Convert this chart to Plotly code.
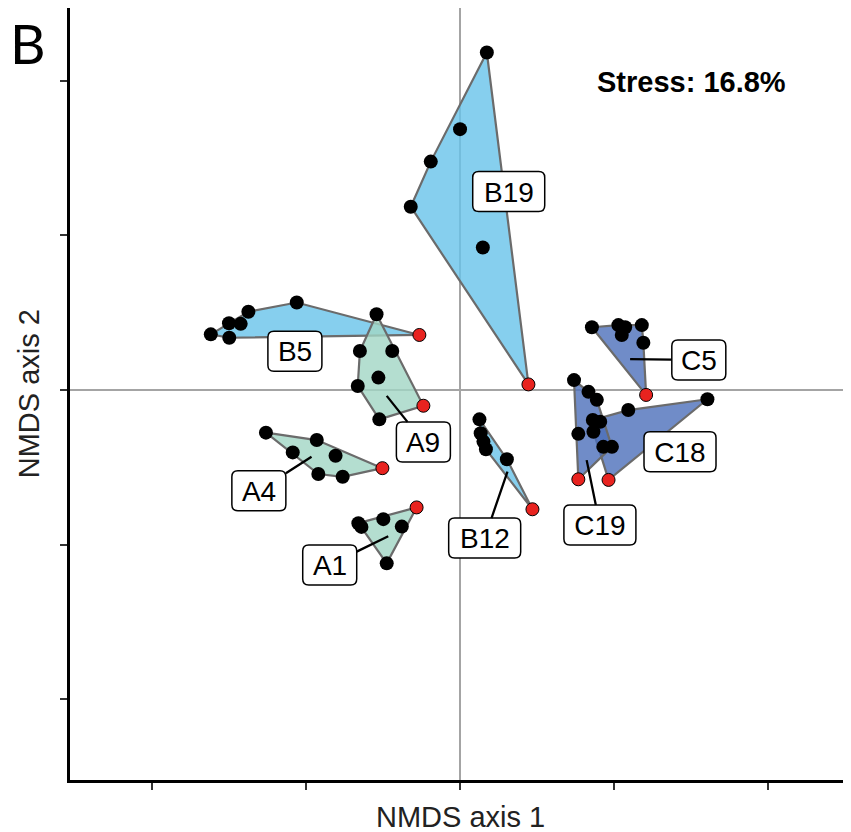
import plotly.graph_objects as go

# ---- data (NMDS scores; last point of each group is the highlighted sample) ----
A1_x = [-0.330, -0.320, -0.249, -0.189, -0.238, -0.141]
A1_y = [-0.431, -0.443, -0.418, -0.442, -0.561, -0.380]
A4_x = [-0.630, -0.465, -0.543, -0.404, -0.460, -0.381, -0.252]
A4_y = [-0.138, -0.162, -0.202, -0.213, -0.272, -0.281, -0.253]
A9_x = [-0.271, -0.325, -0.220, -0.265, -0.332, -0.262, -0.119]
A9_y = [0.245, 0.126, 0.126, 0.040, 0.013, -0.095, -0.051]
B5_x = [-0.809, -0.749, -0.750, -0.712, -0.687, -0.530, -0.132]
B5_y = [0.180, 0.169, 0.216, 0.214, 0.253, 0.283, 0.178]
B12_x = [0.063, 0.067, 0.076, 0.084, 0.152, 0.235]
B12_y = [-0.095, -0.140, -0.167, -0.192, -0.224, -0.386]
B19_x = [0.087, 0.000, -0.095, -0.160, 0.074, 0.222]
B19_y = [1.092, 0.844, 0.739, 0.593, 0.461, 0.018]
C5_x = [0.428, 0.514, 0.536, 0.525, 0.590, 0.595, 0.604]
C5_y = [0.203, 0.210, 0.203, 0.178, 0.210, 0.153, -0.016]
C18_x = [0.431, 0.455, 0.433, 0.465, 0.546, 0.803, 0.482]
C18_y = [-0.097, -0.103, -0.135, -0.184, -0.065, -0.030, -0.291]
C19_x = [0.370, 0.417, 0.444, 0.384, 0.493, 0.384]
C19_y = [0.032, -0.006, -0.032, -0.142, -0.184, -0.289]

group_names = ["B5", "A9", "B19", "A4", "A1", "B12", "C5", "C18", "C19"]
group_x = [B5_x, A9_x, B19_x, A4_x, A1_x, B12_x, C5_x, C18_x, C19_x]
group_y = [B5_y, A9_y, B19_y, A4_y, A1_y, B12_y, C5_y, C18_y, C19_y]

# label boxes (centre) and the leader-line target inside each hull (None = no leader)
label_x = [-0.536, -0.119, 0.158, -0.653, -0.423, 0.080, 0.775, 0.714, 0.454]
label_y = [0.125, -0.168, 0.642, -0.326, -0.566, -0.479, 0.097, -0.200, -0.437]
leader_x = [None, -0.238, None, -0.482, -0.233, 0.154, 0.552, None, 0.411]
leader_y = [None, -0.019, None, -0.216, -0.473, -0.264, 0.100, None, -0.227]

stress_text = "Stress: 16.8%"
axis_ticks = [-1, -0.5, 0, 0.5, 1]

# ---- layout geometry / styling ----
FIG_W, FIG_H = 843, 824
M_L, M_R, M_T, M_B = 62, 0, 0, 52
X_RANGE = [-1.266, 1.269]
Y_RANGE = [-1.262, 1.236]
PLOT_W = FIG_W - M_L - M_R
PLOT_H = FIG_H - M_T - M_B
PX_X = PLOT_W / (X_RANGE[1] - X_RANGE[0])   # pixels per data unit
PX_Y = PLOT_H / (Y_RANGE[1] - Y_RANGE[0])

fill_colors = {
    "A": "rgba(161,214,196,0.80)",
    "B": "rgba(104,195,234,0.80)",
    "C": "rgba(76,111,186,0.80)",
}
LABEL_FONT = dict(family="Liberation Sans, Arial, sans-serif", size=28, color="black")


def convex_hull(xs, ys):
    pts = sorted(set(zip(xs, ys)))
    if len(pts) <= 2:
        return pts

    def cross(o, a, b):
        return (a[0] - o[0]) * (b[1] - o[1]) - (a[1] - o[1]) * (b[0] - o[0])

    lower, upper = [], []
    for p in pts:
        while len(lower) >= 2 and cross(lower[-2], lower[-1], p) <= 0:
            lower.pop()
        lower.append(p)
    for p in reversed(pts):
        while len(upper) >= 2 and cross(upper[-2], upper[-1], p) <= 0:
            upper.pop()
        upper.append(p)
    return lower[:-1] + upper[:-1]


def rounded_box_path(cx, cy, w_px, h_px, r_px):
    hw, hh = w_px / 2 / PX_X, h_px / 2 / PX_Y
    rx, ry = r_px / PX_X, r_px / PX_Y
    x0, x1, y0, y1 = cx - hw, cx + hw, cy - hh, cy + hh
    return (f"M {x0 + rx},{y1} L {x1 - rx},{y1} Q {x1},{y1} {x1},{y1 - ry} "
            f"L {x1},{y0 + ry} Q {x1},{y0} {x1 - rx},{y0} "
            f"L {x0 + rx},{y0} Q {x0},{y0} {x0},{y0 + ry} "
            f"L {x0},{y1 - ry} Q {x0},{y1} {x0 + rx},{y1} Z")


fig = go.Figure()

# hulls
for name, xs, ys in zip(group_names, group_x, group_y):
    hull = convex_hull(xs, ys)
    hx = [p[0] for p in hull] + [hull[0][0]]
    hy = [p[1] for p in hull] + [hull[0][1]]
    fig.add_trace(go.Scatter(
        x=hx, y=hy, mode="lines", fill="toself",
        fillcolor=fill_colors[name[0]],
        line=dict(color="#6b6b6b", width=2.2),
        hoverinfo="skip", showlegend=False,
    ))

# points
for name, xs, ys in zip(group_names, group_x, group_y):
    fig.add_trace(go.Scatter(
        x=xs[:-1], y=ys[:-1], mode="markers",
        marker=dict(color="black", size=14),
        name=name, showlegend=False,
    ))
    fig.add_trace(go.Scatter(
        x=xs[-1:], y=ys[-1:], mode="markers",
        marker=dict(color="#e8231f", size=13, line=dict(color="black", width=1)),
        name=name, showlegend=False,
    ))

# labels: rounded white boxes + text (+ leader line)
for name, lx, ly, tx, ty in zip(group_names, label_x, label_y, leader_x, leader_y):
    w = 54 if len(name) == 2 else 72
    h = 40
    fig.add_shape(
        type="path", path=rounded_box_path(lx, ly, w, h, 6), xref="x", yref="y",
        fillcolor="white", line=dict(color="black", width=1.5), layer="above",
    )
    common = dict(text=name, font=LABEL_FONT, borderpad=0, borderwidth=0,
                  width=w, height=h, align="center", valign="middle")
    if tx is None:
        fig.add_annotation(x=lx, y=ly, xref="x", yref="y", showarrow=False, **common)
    else:
        fig.add_annotation(
            x=tx, y=ty, xref="x", yref="y",
            ax=lx, ay=ly, axref="x", ayref="y",
            showarrow=True, arrowhead=0, arrowwidth=2.3, arrowcolor="black",
            standoff=0, startstandoff=0, **common,
        )

# stress text
fig.add_annotation(
    x=0.7964, y=0.904, xref="paper", yref="paper", text="<b>" + stress_text + "</b>",
    xanchor="center", yanchor="middle", showarrow=False,
    font=dict(family="Liberation Sans, Arial, sans-serif", size=29, color="black"),
)
# panel letter
fig.add_annotation(
    x=-M_L / PLOT_W, y=1.0, xref="paper", yref="paper", text="B",
    xanchor="left", yanchor="top", showarrow=False,
    font=dict(family="Lato, Open Sans, sans-serif", size=55, color="black"),
)
# axis titles
fig.add_annotation(
    x=0.5, y=-0.048, xref="paper", yref="paper", text="NMDS axis 1",
    xanchor="center", yanchor="middle", showarrow=False,
    font=dict(family="Liberation Sans, Arial, sans-serif", size=29, color="#222"),
)
fig.add_annotation(
    x=-0.0525, y=0.501, xref="paper", yref="paper", text="NMDS axis 2", textangle=-90,
    xanchor="center", yanchor="middle", showarrow=False,
    font=dict(family="Liberation Sans, Arial, sans-serif", size=29, color="#222"),
)

axis_common = dict(
    showgrid=False, zeroline=True, zerolinecolor="#a4a4a4", zerolinewidth=2.4,
    showline=True, linecolor="black", linewidth=2.5, mirror=False,
    ticks="outside", ticklen=7, tickwidth=2, tickcolor="#333",
    tickvals=axis_ticks, showticklabels=False,
)
fig.update_xaxes(range=X_RANGE, **axis_common)
fig.update_yaxes(range=Y_RANGE, **axis_common)

fig.update_layout(
    width=FIG_W, height=FIG_H,
    margin=dict(l=M_L, r=M_R, t=M_T, b=M_B),
    plot_bgcolor="white", paper_bgcolor="white",
    showlegend=False,
)

fig.write_html("out.html")
